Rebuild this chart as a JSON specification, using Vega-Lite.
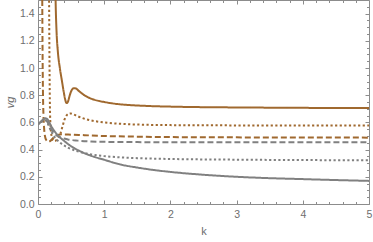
{
  "$schema": "https://vega.github.io/schema/vega-lite/v6.json",
  "width": 331,
  "height": 204,
  "autosize": "none",
  "padding": {"left": 38, "top": 0, "right": 4, "bottom": 38},
  "config": {
    "view": {"stroke": "#8c8c8c", "strokeWidth": 1},
    "axis": {
      "domain": false,
      "grid": false,
      "tickColor": "#8c8c8c",
      "tickWidth": 1,
      "labelColor": "#6e6e6e",
      "labelFont": "Liberation Sans",
      "labelFontSize": 10.5,
      "titleColor": "#6e6e6e",
      "titleFont": "Liberation Sans",
      "titleFontSize": 11,
      "titleFontWeight": "normal"
    }
  },
  "data": {
    "values": [
      {"s": "bs", "k": 0.262, "v": 1.6}, {"s": "bs", "k": 0.268, "v": 1.45}, {"s": "bs", "k": 0.28, "v": 1.27}, {"s": "bs", "k": 0.3, "v": 1.12}, {"s": "bs", "k": 0.33, "v": 1.0}, {"s": "bs", "k": 0.36, "v": 0.91}, {"s": "bs", "k": 0.39, "v": 0.82}, {"s": "bs", "k": 0.41, "v": 0.77}, {"s": "bs", "k": 0.43, "v": 0.742}, {"s": "bs", "k": 0.45, "v": 0.75}, {"s": "bs", "k": 0.48, "v": 0.8}, {"s": "bs", "k": 0.51, "v": 0.838}, {"s": "bs", "k": 0.54, "v": 0.852}, {"s": "bs", "k": 0.57, "v": 0.85}, {"s": "bs", "k": 0.62, "v": 0.83}, {"s": "bs", "k": 0.7, "v": 0.8}, {"s": "bs", "k": 0.8, "v": 0.775}, {"s": "bs", "k": 0.9, "v": 0.76}, {"s": "bs", "k": 1.0, "v": 0.75}, {"s": "bs", "k": 1.2, "v": 0.735}, {"s": "bs", "k": 1.4, "v": 0.727}, {"s": "bs", "k": 1.7, "v": 0.72}, {"s": "bs", "k": 2.0, "v": 0.716}, {"s": "bs", "k": 2.5, "v": 0.712}, {"s": "bs", "k": 3.0, "v": 0.71}, {"s": "bs", "k": 4.0, "v": 0.707}, {"s": "bs", "k": 5.0, "v": 0.705},
      {"s": "bdot", "k": 0.165, "v": 1.7}, {"s": "bdot", "k": 0.17, "v": 1.3}, {"s": "bdot", "k": 0.175, "v": 0.95}, {"s": "bdot", "k": 0.18, "v": 0.72}, {"s": "bdot", "k": 0.19, "v": 0.57}, {"s": "bdot", "k": 0.205, "v": 0.5}, {"s": "bdot", "k": 0.225, "v": 0.47}, {"s": "bdot", "k": 0.25, "v": 0.462}, {"s": "bdot", "k": 0.28, "v": 0.47}, {"s": "bdot", "k": 0.31, "v": 0.49}, {"s": "bdot", "k": 0.34, "v": 0.52}, {"s": "bdot", "k": 0.37, "v": 0.57}, {"s": "bdot", "k": 0.4, "v": 0.62}, {"s": "bdot", "k": 0.43, "v": 0.65}, {"s": "bdot", "k": 0.46, "v": 0.663}, {"s": "bdot", "k": 0.49, "v": 0.666}, {"s": "bdot", "k": 0.53, "v": 0.66}, {"s": "bdot", "k": 0.6, "v": 0.645}, {"s": "bdot", "k": 0.7, "v": 0.627}, {"s": "bdot", "k": 0.85, "v": 0.61}, {"s": "bdot", "k": 1.0, "v": 0.6}, {"s": "bdot", "k": 1.4, "v": 0.586}, {"s": "bdot", "k": 2.0, "v": 0.58}, {"s": "bdot", "k": 3.0, "v": 0.578}, {"s": "bdot", "k": 5.0, "v": 0.577},
      {"s": "bdash", "k": 0.062, "v": 1.7}, {"s": "bdash", "k": 0.066, "v": 1.35}, {"s": "bdash", "k": 0.07, "v": 1.05}, {"s": "bdash", "k": 0.075, "v": 0.82}, {"s": "bdash", "k": 0.082, "v": 0.66}, {"s": "bdash", "k": 0.092, "v": 0.56}, {"s": "bdash", "k": 0.105, "v": 0.5}, {"s": "bdash", "k": 0.125, "v": 0.47}, {"s": "bdash", "k": 0.15, "v": 0.46}, {"s": "bdash", "k": 0.18, "v": 0.462}, {"s": "bdash", "k": 0.21, "v": 0.475}, {"s": "bdash", "k": 0.25, "v": 0.495}, {"s": "bdash", "k": 0.3, "v": 0.508}, {"s": "bdash", "k": 0.36, "v": 0.512}, {"s": "bdash", "k": 0.5, "v": 0.51}, {"s": "bdash", "k": 0.7, "v": 0.506}, {"s": "bdash", "k": 1.0, "v": 0.5}, {"s": "bdash", "k": 1.5, "v": 0.495}, {"s": "bdash", "k": 2.0, "v": 0.492}, {"s": "bdash", "k": 3.0, "v": 0.49}, {"s": "bdash", "k": 5.0, "v": 0.488},
      {"s": "gs", "k": 0.0, "v": 0.59}, {"s": "gs", "k": 0.04, "v": 0.605}, {"s": "gs", "k": 0.08, "v": 0.622}, {"s": "gs", "k": 0.11, "v": 0.63}, {"s": "gs", "k": 0.14, "v": 0.625}, {"s": "gs", "k": 0.17, "v": 0.6}, {"s": "gs", "k": 0.2, "v": 0.572}, {"s": "gs", "k": 0.25, "v": 0.535}, {"s": "gs", "k": 0.3, "v": 0.505}, {"s": "gs", "k": 0.38, "v": 0.47}, {"s": "gs", "k": 0.5, "v": 0.425}, {"s": "gs", "k": 0.65, "v": 0.385}, {"s": "gs", "k": 0.8, "v": 0.355}, {"s": "gs", "k": 1.0, "v": 0.325}, {"s": "gs", "k": 1.25, "v": 0.29}, {"s": "gs", "k": 1.5, "v": 0.268}, {"s": "gs", "k": 1.75, "v": 0.25}, {"s": "gs", "k": 2.0, "v": 0.236}, {"s": "gs", "k": 2.5, "v": 0.215}, {"s": "gs", "k": 3.0, "v": 0.2}, {"s": "gs", "k": 3.5, "v": 0.19}, {"s": "gs", "k": 4.0, "v": 0.183}, {"s": "gs", "k": 4.5, "v": 0.176}, {"s": "gs", "k": 5.0, "v": 0.17},
      {"s": "gdash", "k": 0.0, "v": 0.585}, {"s": "gdash", "k": 0.05, "v": 0.605}, {"s": "gdash", "k": 0.1, "v": 0.62}, {"s": "gdash", "k": 0.14, "v": 0.605}, {"s": "gdash", "k": 0.18, "v": 0.565}, {"s": "gdash", "k": 0.22, "v": 0.535}, {"s": "gdash", "k": 0.28, "v": 0.505}, {"s": "gdash", "k": 0.35, "v": 0.488}, {"s": "gdash", "k": 0.45, "v": 0.475}, {"s": "gdash", "k": 0.6, "v": 0.466}, {"s": "gdash", "k": 0.8, "v": 0.46}, {"s": "gdash", "k": 1.0, "v": 0.457}, {"s": "gdash", "k": 1.5, "v": 0.455}, {"s": "gdash", "k": 2.0, "v": 0.454}, {"s": "gdash", "k": 3.0, "v": 0.454}, {"s": "gdash", "k": 5.0, "v": 0.454},
      {"s": "gdot", "k": 0.0, "v": 0.585}, {"s": "gdot", "k": 0.05, "v": 0.605}, {"s": "gdot", "k": 0.1, "v": 0.622}, {"s": "gdot", "k": 0.14, "v": 0.6}, {"s": "gdot", "k": 0.18, "v": 0.555}, {"s": "gdot", "k": 0.22, "v": 0.515}, {"s": "gdot", "k": 0.28, "v": 0.475}, {"s": "gdot", "k": 0.35, "v": 0.445}, {"s": "gdot", "k": 0.45, "v": 0.415}, {"s": "gdot", "k": 0.6, "v": 0.387}, {"s": "gdot", "k": 0.8, "v": 0.365}, {"s": "gdot", "k": 1.0, "v": 0.352}, {"s": "gdot", "k": 1.25, "v": 0.343}, {"s": "gdot", "k": 1.5, "v": 0.337}, {"s": "gdot", "k": 2.0, "v": 0.331}, {"s": "gdot", "k": 3.0, "v": 0.326}, {"s": "gdot", "k": 4.0, "v": 0.323}, {"s": "gdot", "k": 5.0, "v": 0.322}
    ]
  },
  "layer": [
    {
      "mark": {"type": "line", "clip": true, "strokeWidth": 2, "interpolate": "monotone", "strokeCap": "butt"},
      "encoding": {
        "x": {"field": "k", "type": "quantitative", "scale": {"domain": [0, 5], "nice": false, "zero": false},
              "axis": {"orient": "bottom", "values": [0, 1, 2, 3, 4, 5], "tickSize": -4, "labelPadding": 9, "title": "k", "titlePadding": 6, "labelFlush": false}},
        "y": {"field": "v", "type": "quantitative", "scale": {"domain": [0, 1.5], "nice": false, "zero": false},
              "axis": {"orient": "left", "values": [0, 0.2, 0.4, 0.6, 0.8, 1.0, 1.2, 1.4], "format": ".1f", "tickSize": -4, "labelPadding": 8, "title": "vg", "titleFontStyle": "italic", "titlePadding": 4, "labelFlush": false}},
        "color": {"field": "s", "type": "nominal", "legend": null,
                  "scale": {"domain": ["bs", "bdot", "bdash", "gs", "gdash", "gdot"], "range": ["#a0692f", "#a0692f", "#a0692f", "#808080", "#808080", "#808080"]}},
        "strokeDash": {"field": "s", "type": "nominal", "legend": null,
                  "scale": {"domain": ["bs", "bdot", "bdash", "gs", "gdash", "gdot"], "range": [[1, 0], [2.2, 2.4], [6, 3], [1, 0], [6, 3], [2.2, 2.4]]}}
      }
    },
    {
      "mark": {"type": "line", "opacity": 0},
      "encoding": {
        "x": {"field": "k", "type": "quantitative", "axis": {"orient": "bottom", "values": [0.2,0.4,0.6,0.8,1.2,1.4,1.6,1.8,2.2,2.4,2.6,2.8,3.2,3.4,3.6,3.8,4.2,4.4,4.6,4.8], "tickSize": -2.5, "labels": false, "title": null}},
        "y": {"field": "v", "type": "quantitative", "axis": {"orient": "left", "values": [0.05,0.1,0.15,0.25,0.3,0.35,0.45,0.5,0.55,0.65,0.7,0.75,0.85,0.9,0.95,1.05,1.1,1.15,1.25,1.3,1.35,1.45], "tickSize": -2.5, "labels": false, "title": null}},
        "detail": {"field": "s"}
      }
    },
    {
      "mark": {"type": "line", "opacity": 0},
      "encoding": {
        "x": {"field": "k", "type": "quantitative", "axis": {"orient": "top", "values": [0, 1, 2, 3, 4, 5], "tickSize": -4, "labels": false, "title": null}},
        "y": {"field": "v", "type": "quantitative", "axis": {"orient": "right", "values": [0, 0.2, 0.4, 0.6, 0.8, 1.0, 1.2, 1.4], "tickSize": -4, "labels": false, "title": null}},
        "detail": {"field": "s"}
      }
    },
    {
      "mark": {"type": "line", "opacity": 0},
      "encoding": {
        "x": {"field": "k", "type": "quantitative", "axis": {"orient": "top", "values": [0.2,0.4,0.6,0.8,1.2,1.4,1.6,1.8,2.2,2.4,2.6,2.8,3.2,3.4,3.6,3.8,4.2,4.4,4.6,4.8], "tickSize": -2.5, "labels": false, "title": null}},
        "y": {"field": "v", "type": "quantitative", "axis": {"orient": "right", "values": [0.05,0.1,0.15,0.25,0.3,0.35,0.45,0.5,0.55,0.65,0.7,0.75,0.85,0.9,0.95,1.05,1.1,1.15,1.25,1.3,1.35,1.45], "tickSize": -2.5, "labels": false, "title": null}},
        "detail": {"field": "s"}
      }
    }
  ],
  "resolve": {"axis": {"x": "independent", "y": "independent"}}
}
